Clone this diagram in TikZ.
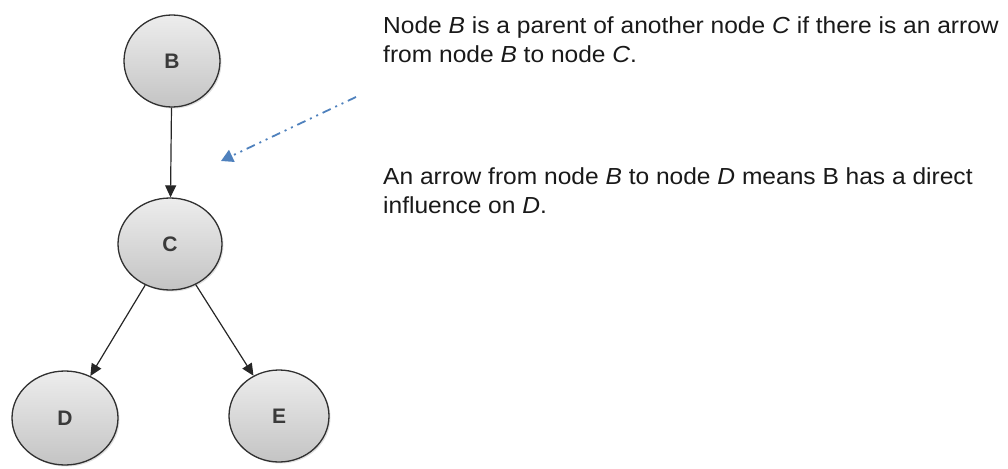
\documentclass[tikz,border=0pt]{standalone}
\usepackage{fontspec}
\setmainfont{Liberation Sans}
\usetikzlibrary{arrows.meta,shadows,shapes.geometric}
\definecolor{nodeedge}{HTML}{303030}
\definecolor{nodetop}{HTML}{EDEDED}
\definecolor{nodebot}{HTML}{C4C4C4}
\definecolor{hintblue}{HTML}{4F81BD}
\definecolor{labelgray}{HTML}{3A3A3A}
\tikzset{
  bnode/.style={ellipse, draw=nodeedge, line width=1.3pt, top color=nodetop, bottom color=nodebot,
    drop shadow={shadow xshift=1.5pt, shadow yshift=-1.5pt, opacity=0.25},
    minimum width=#1, minimum height=92pt, inner sep=0pt,
    font=\fontsize{21}{24}\selectfont\bfseries, text=labelgray},
  bnode/.default=100pt,
  edge/.style={-{Triangle[length=12pt,width=11pt]}, line width=1.2pt, draw=black!85},
  hint/.style={-{Triangle[length=12pt,width=13pt]}, line width=1.8pt, draw=hintblue,
    dash pattern=on 9pt off 5pt on 2pt off 5pt on 2pt off 5pt},
  % baseline anchor of a two-line note sits on its last line
  note/.style={anchor=base west, align=left, inner sep=0pt, xscale=1.058,
    font=\fontsize{23.2}{28.5}\selectfont, text=black!90},
}
\begin{document}
\begin{tikzpicture}[x=1pt,y=-1pt]
  \useasboundingbox (0,0) rectangle (1008,468);
  \node[bnode=96pt] (B) at (172,61) {B};
  \node[bnode=104pt] (C) at (170,244) {C};
  \node[bnode=106pt, minimum height=94pt] (D) at (65,418) {D};
  \node[bnode=100pt, minimum height=92pt] (E) at (279,416) {E};
  \draw[edge] (B) -- (C);
  \draw[edge] (C) -- (D);
  \draw[edge] (C) -- (E);
  \coordinate (hs) at (356,97);
  \coordinate (he) at (221,161);
  \draw[hint] (hs) -- (he);
  \node[note] (t1) at (383,62.5) {Node \textit{B} is a parent of another node \textit{C} if there is an arrow\\from node \textit{B} to node \textit{C}.};
  \node[note] (t2) at (383,213) {An arrow from node \textit{B} to node \textit{D} means B has a direct\\influence on \textit{D}.};
\end{tikzpicture}
\end{document}
